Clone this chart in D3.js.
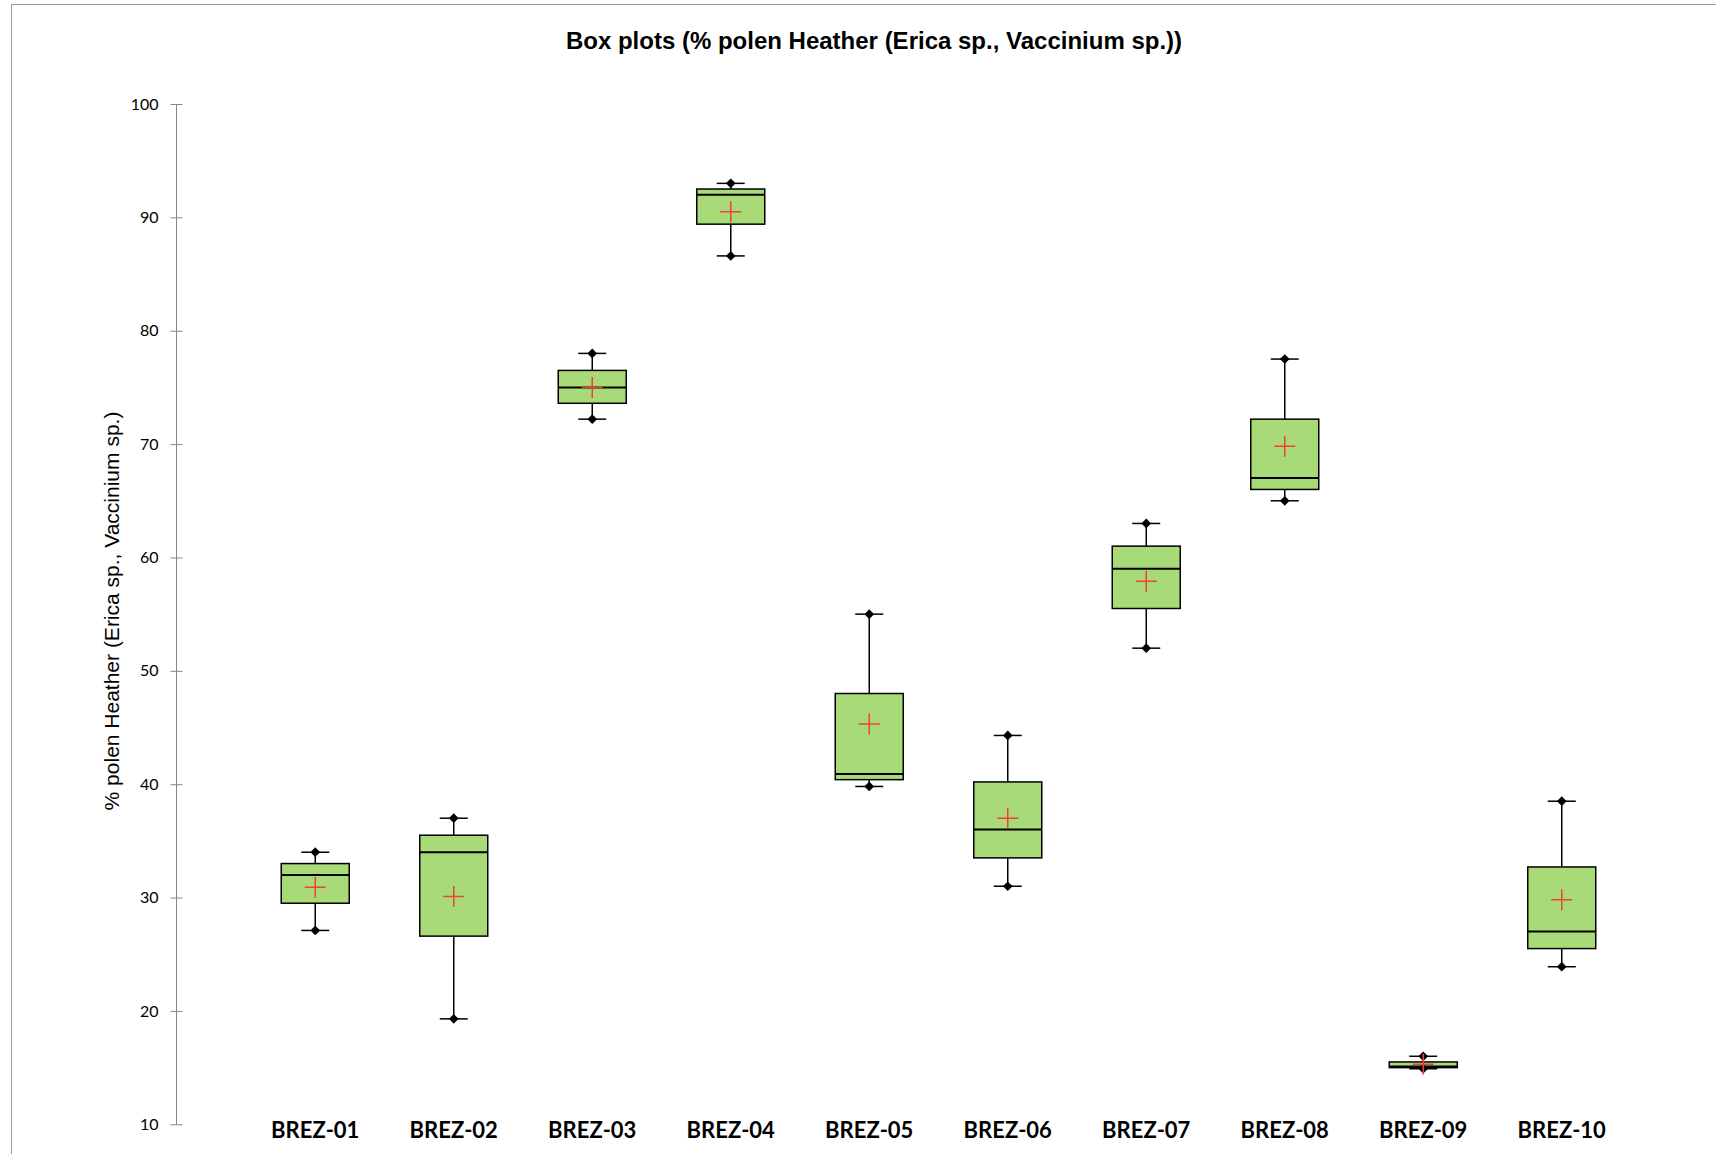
<!DOCTYPE html>
<html>
<head>
<meta charset="utf-8">
<script src="https://cdn.jsdelivr.net/npm/d3@7"></script>
<style>
  body { margin: 0; background: #fff; }
  svg { display: block; }
</style>
</head>
<body>
<svg id="chart" width="1716" height="1154"></svg>
<script>
// values
var categories = ["BREZ-01", "BREZ-02", "BREZ-03", "BREZ-04", "BREZ-05",
                  "BREZ-06", "BREZ-07", "BREZ-08", "BREZ-09", "BREZ-10"];
var mins    = [27.1, 19.3, 72.2, 86.6, 39.8, 31.0, 52.0, 65.0, 14.9, 23.9];
var q1s     = [29.5, 26.6, 73.6, 89.4, 40.4, 33.5, 55.5, 66.0, 15.0, 25.5];
var medians = [32.0, 34.0, 75.0, 92.0, 40.9, 36.0, 59.0, 67.0, 15.1, 27.0];
var q3s     = [33.0, 35.5, 76.5, 92.5, 48.0, 40.2, 61.0, 72.2, 15.5, 32.7];
var maxs    = [34.0, 37.0, 78.0, 93.0, 55.0, 44.3, 63.0, 77.5, 16.0, 38.5];
var means   = [30.9, 30.1, 75.0, 90.5, 45.3, 37.0, 57.9, 69.8, 15.3, 29.8];
var yTicks  = [10, 20, 30, 40, 50, 60, 70, 80, 90, 100];

var title = "Box plots (% polen Heather (Erica sp., Vaccinium sp.))";
var yTitle = "% polen Heather (Erica sp., Vaccinium sp.)";

var svg = d3.select("#chart");

var rows = categories.map(function(c, i) {
    return {cat: c, min: mins[i], q1: q1s[i], med: medians[i], q3: q3s[i], max: maxs[i], mean: means[i]};
});

var x = d3.scaleBand().domain(categories).range([246, 1631]).padding(0);
var y = d3.scaleLinear().domain([10, 100]).range([1124.3, 104]);

var boxW = 68, capW = 14, plusR = 10.5;

// outer chart frame (runs off the right and bottom)
svg.append("rect")
    .attr("x", 11.5).attr("y", 4.5)
    .attr("width", 1800).attr("height", 1300)
    .attr("fill", "none")
    .attr("stroke", "#9a9a9a")
    .attr("stroke-width", 1);

// title
svg.append("text")
    .attr("x", 874).attr("y", 48.5)
    .attr("text-anchor", "middle")
    .attr("font-family", "Liberation Sans, Arial, sans-serif")
    .attr("font-weight", "bold")
    .attr("font-size", 24)
    .attr("fill", "#000")
    .text(title);

// y axis
var yAxis = svg.append("g")
    .attr("transform", "translate(176.5,0)")
    .call(d3.axisLeft(y).tickValues(yTicks).tickSize(6).tickPadding(12));
yAxis.select(".domain").attr("stroke", "#868686").attr("d", "M0," + y(10) + "V" + y(100));
yAxis.selectAll(".tick line").attr("stroke", "#868686").attr("x1", -6).attr("x2", 6);
yAxis.selectAll(".tick text")
    .attr("font-family", "Lato, Carlito, sans-serif")
    .attr("font-size", 16)
    .attr("fill", "#000");

svg.append("text")
    .attr("transform", "translate(119,611) rotate(-90)")
    .attr("text-anchor", "middle")
    .attr("font-family", "Liberation Sans, Arial, sans-serif")
    .attr("font-size", 21)
    .attr("fill", "#000")
    .text(yTitle);

// category labels
svg.append("g").selectAll("text")
    .data(categories)
    .enter().append("text")
        .attr("x", function(d) { return x(d) + x.bandwidth() / 2; })
        .attr("y", 1138)
        .attr("text-anchor", "middle")
        .attr("font-family", "Lato, Carlito, sans-serif")
        .attr("font-weight", "bold")
        .attr("font-size", 22)
        .attr("fill", "#000")
        .text(function(d) { return d; });

var box = svg.append("g").selectAll("g")
    .data(rows)
    .enter().append("g")
        .attr("transform", function(d) { return "translate(" + (x(d.cat) + x.bandwidth() / 2) + ",0)"; });

// whiskers
box.append("line")
    .attr("x1", 0).attr("x2", 0)
    .attr("y1", function(d) { return y(d.max); })
    .attr("y2", function(d) { return y(d.q3); })
    .attr("stroke", "#000").attr("stroke-width", 1.5);
box.append("line")
    .attr("x1", 0).attr("x2", 0)
    .attr("y1", function(d) { return y(d.q1); })
    .attr("y2", function(d) { return y(d.min); })
    .attr("stroke", "#000").attr("stroke-width", 1.5);

// box
box.append("rect")
    .attr("x", -boxW / 2)
    .attr("y", function(d) { return y(d.q3); })
    .attr("width", boxW)
    .attr("height", function(d) { return y(d.q1) - y(d.q3); })
    .attr("fill", "#a8da78")
    .attr("stroke", "#000")
    .attr("stroke-width", 1.5);

// median
box.append("line")
    .attr("x1", -boxW / 2).attr("x2", boxW / 2)
    .attr("y1", function(d) { return y(d.med); })
    .attr("y2", function(d) { return y(d.med); })
    .attr("stroke", "#000").attr("stroke-width", 2);

// caps and diamond end points
["min", "max"].forEach(function(k) {
    box.append("line")
        .attr("x1", -capW).attr("x2", capW)
        .attr("y1", function(d) { return y(d[k]); })
        .attr("y2", function(d) { return y(d[k]); })
        .attr("stroke", "#000").attr("stroke-width", 1.5);
    box.append("path")
        .attr("d", d3.symbol(d3.symbolDiamond2, 60))
        .attr("transform", function(d) { return "translate(0," + y(d[k]) + ")"; })
        .attr("fill", "#000");
});

// mean marker
box.append("path")
    .attr("d", function(d) {
        var m = y(d.mean);
        return "M" + (-plusR) + "," + m + "H" + plusR + "M0," + (m - plusR) + "V" + (m + plusR);
    })
    .attr("stroke", "#f0403a")
    .attr("stroke-width", 1.5)
    .attr("fill", "none");
</script>
</body>
</html>
